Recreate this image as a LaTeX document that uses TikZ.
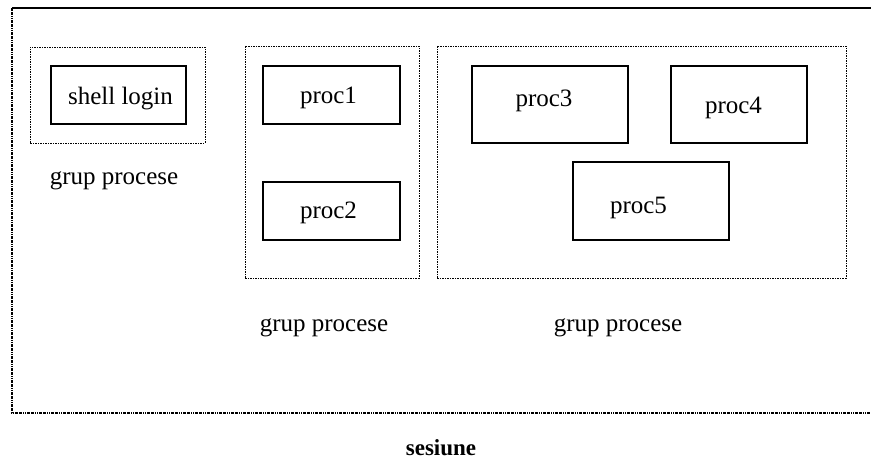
\documentclass[tikz,border=0pt]{standalone}
\usepackage{fontspec}
\setmainfont{Liberation Serif}
\begin{document}
\begin{tikzpicture}[x=1pt,y=-1pt,
  procbox/.style={draw=black, line width=2pt, rectangle, inner sep=0pt},
  grpbox/.style={draw=black, line width=0.9pt, dash pattern=on 2pt off 1pt on 1pt off 1pt, rectangle, inner sep=0pt},
  outerline/.style={draw=black, line width=2pt, dash pattern=on 3pt off 1pt on 3pt off 1pt on 1pt off 1pt on 1pt off 1pt},
  txt/.style={font=\fontsize{25}{29}\selectfont, anchor=base, inner sep=0pt},
  btxt/.style={font=\fontsize{23}{27}\selectfont\bfseries, anchor=base, inner sep=0pt}]
\useasboundingbox (0,0) rectangle (871,462);
\fill[white] (0,0) rectangle (871,462);
% outer session frame
\coordinate (otr) at (871,8);
\coordinate (otl) at (12,8);
\coordinate (obl) at (12,413);
\coordinate (obr) at (871,413);
\draw[line width=2pt] (otl) -- (otr);
\draw[outerline] (otl) -- (obl) -- (obr);
% groups
\node[grpbox, minimum width=175pt, minimum height=96pt] (g1) at (117.5,95) {};
\node[grpbox, minimum width=174pt, minimum height=232pt] (g2) at (332,162) {};
\node[grpbox, minimum width=409pt, minimum height=232pt] (g3) at (641.5,162) {};
% processes
\node[procbox, minimum width=135pt, minimum height=58pt] (sh) at (118.5,95) {};
\node[procbox, minimum width=137pt, minimum height=58pt] (p1) at (331.5,95) {};
\node[procbox, minimum width=137pt, minimum height=58pt] (p2) at (331.5,211) {};
\node[procbox, minimum width=156pt, minimum height=77pt] (p3) at (550,104.5) {};
\node[procbox, minimum width=136pt, minimum height=77pt] (p4) at (739,104.5) {};
\node[procbox, minimum width=156pt, minimum height=78pt] (p5) at (651,201) {};
% texts
\node[txt] (tsh) at (120.5,105) {shell login};
\node[txt] (tp1) at (328.5,104) {proc1};
\node[txt] (tp2) at (328.5,219) {proc2};
\node[txt] (tp3) at (544,107) {proc3};
\node[txt] (tp4) at (733.5,114) {proc4};
\node[txt] (tp5) at (638.5,214) {proc5};
\node[txt] (l1) at (114,185) {grup procese};
\node[txt] (l2) at (324,332) {grup procese};
\node[txt] (l3) at (618,332) {grup procese};
\node[btxt] (ses) at (441,456) {sesiune};
\end{tikzpicture}
\end{document}
